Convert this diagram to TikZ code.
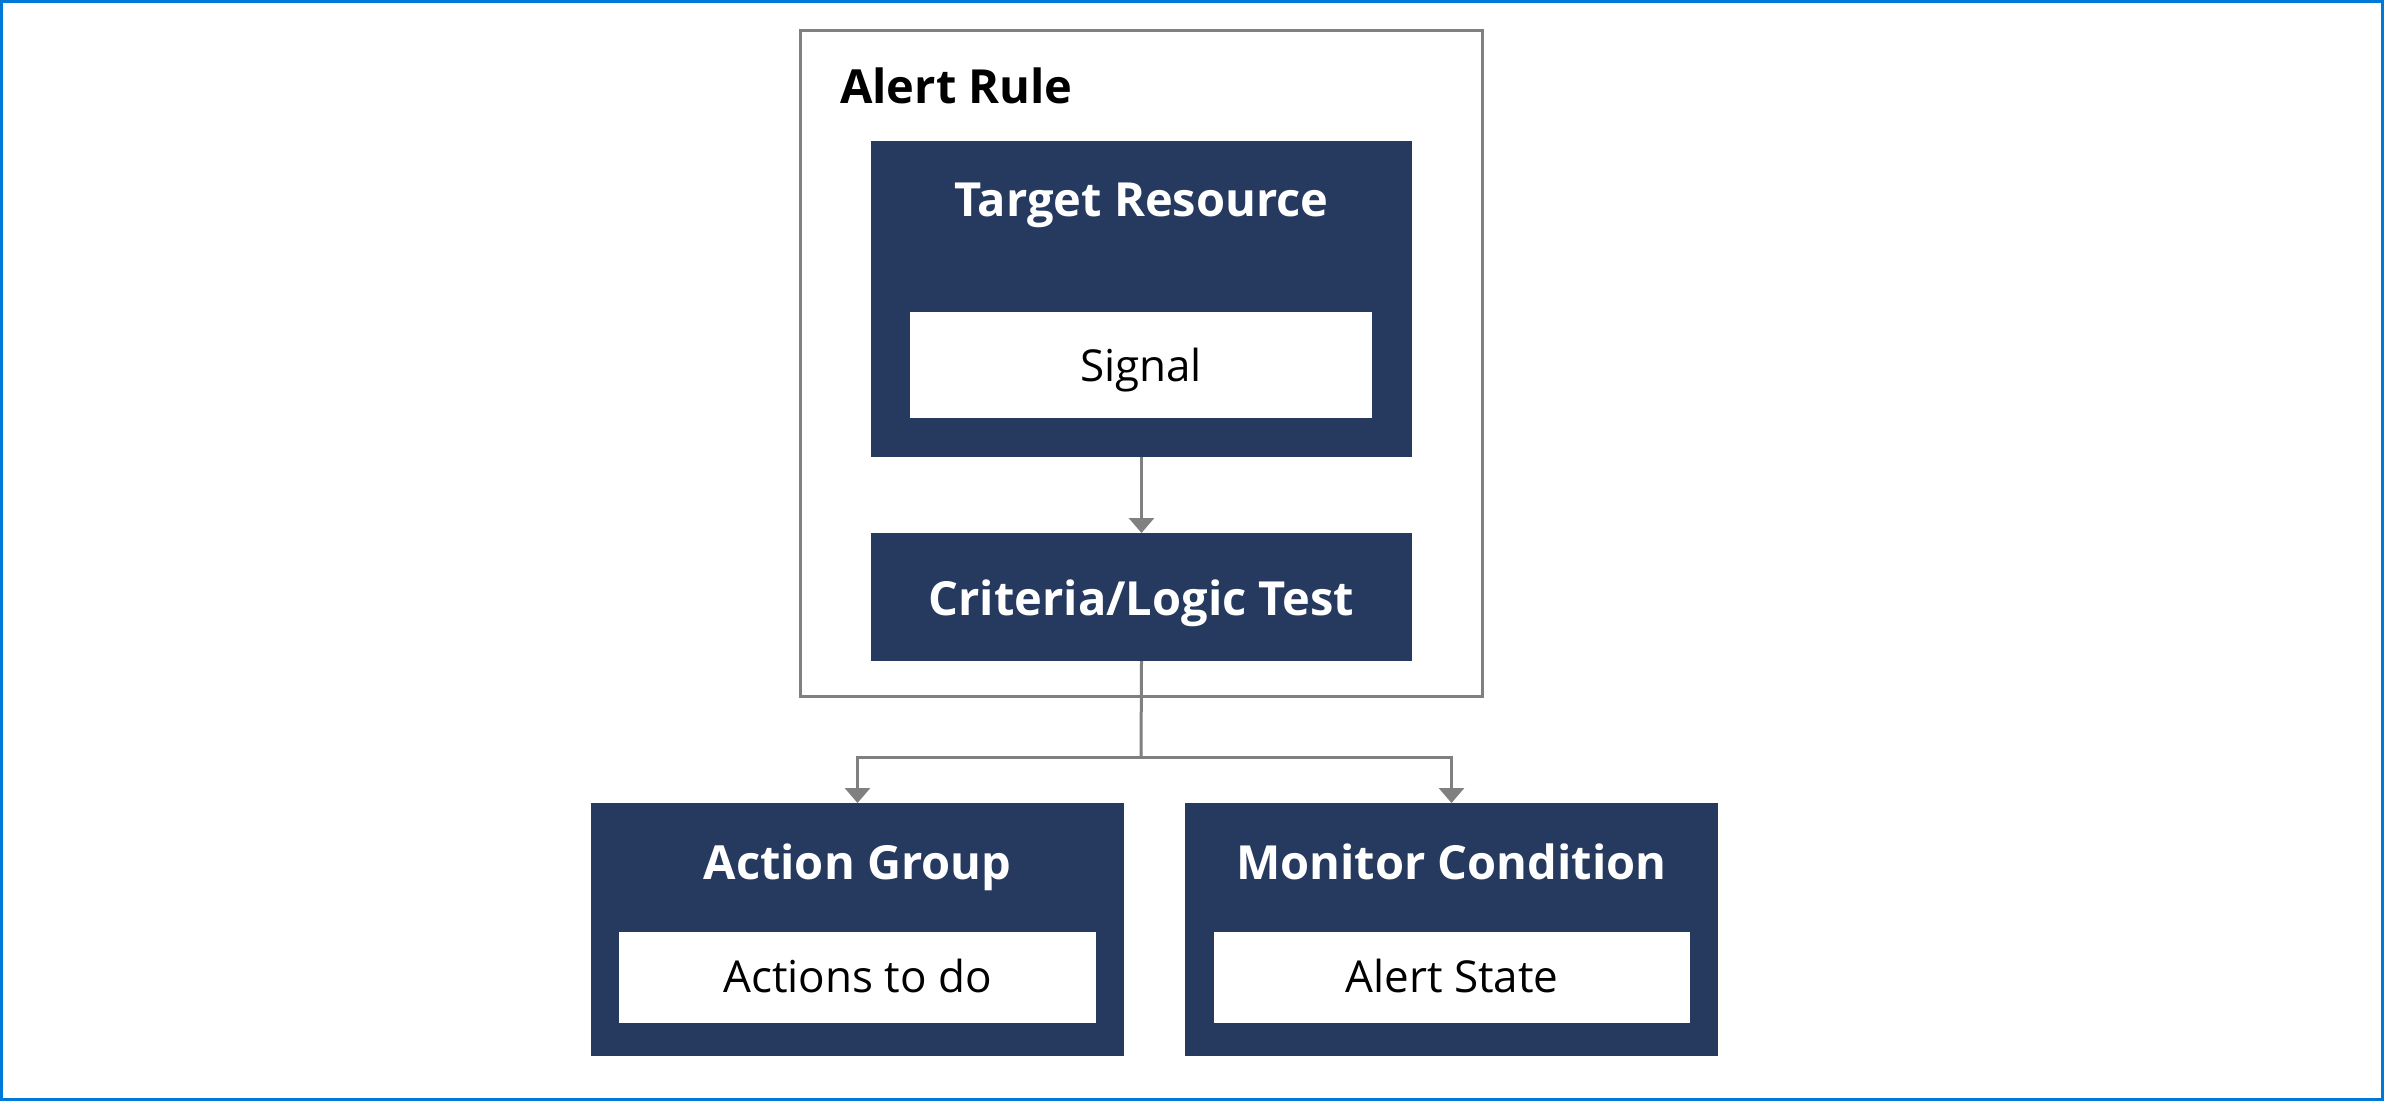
\documentclass[tikz,border=0pt]{standalone}
\usepackage{fontspec}
\setmainfont{Open Sans}
\usetikzlibrary{arrows.meta}
\definecolor{navy}{HTML}{263A5F}
\definecolor{lgray}{HTML}{808080}
\definecolor{blueb}{HTML}{0078D7}
\tikzset{
  dark/.style={fill=navy, draw=none, inner sep=0pt, outer sep=0pt},
  light/.style={fill=white, draw=none, inner sep=0pt, outer sep=0pt},
  frame/.style={draw=lgray, line width=3pt, fill=none, inner sep=0pt, outer sep=0pt},
  title/.style={text=white, font=\fontsize{47}{56}\selectfont\bfseries, anchor=base, inner sep=0pt},
  label/.style={text=black, font=\fontsize{44}{52}\selectfont, anchor=base, inner sep=0pt},
  conn/.style={draw=lgray, line width=3pt, -{Triangle[length=15pt,width=25pt]}},
  plain/.style={draw=lgray, line width=3pt}
}
\begin{document}
\begin{tikzpicture}[x=1pt,y=-1pt]
\useasboundingbox (0,0) rectangle (2384,1101);
\fill[white] (0,0) rectangle (2384,1101);
\draw[blueb, line width=3pt] (1.5,1.5) rectangle (2382.5,1099.5);
% alert rule frame
\node[frame, minimum width=682pt, minimum height=666pt] (rule) at (1141,363) {};
\node[text=black, font=\fontsize{47}{56}\selectfont\bfseries, anchor=base west, inner sep=0pt] (ruletitle) at (840,103) {Alert Rule};
% target resource
\node[dark, minimum width=541pt, minimum height=316pt] (target) at (1141.5,299) {};
\node[title] (targett) at (1141.5,216) {Target Resource};
\node[light, minimum width=462pt, minimum height=106pt] (signal) at (1141,365) {};
\node[label] (signalt) at (1141,381) {Signal};
% criteria
\node[dark, minimum width=541pt, minimum height=128pt] (crit) at (1141.5,597) {};
\node[title] (critt) at (1141.5,615) {Criteria/Logic Test};
% action group
\node[dark, minimum width=533pt, minimum height=253pt] (act) at (857.5,929.5) {};
\node[title] (actt) at (857.5,879) {Action Group};
\node[light, minimum width=477pt, minimum height=91pt] (acti) at (857.5,977.5) {};
\node[label] (actit) at (857.5,992) {Actions to do};
% monitor condition
\node[dark, minimum width=533pt, minimum height=253pt] (mon) at (1451.5,929.5) {};
\node[title] (mont) at (1451.5,879) {Monitor Condition};
\node[light, minimum width=476pt, minimum height=91pt] (moni) at (1452,977.5) {};
\node[label] (monit) at (1452,992) {Alert State};
% connectors
\coordinate (j) at (1141,757);
\draw[conn] (target.south) -- (crit.north);
\draw[plain] (crit.south) -- (j);
\draw[conn] (j) -| (act.north);
\draw[conn] (j) -| (mon.north);
\end{tikzpicture}
\end{document}
